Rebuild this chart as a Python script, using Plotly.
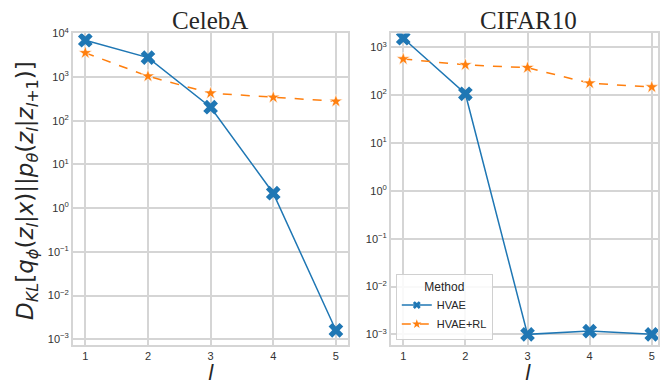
import plotly.graph_objects as go

levels = [1, 2, 3, 4, 5]
celeba_hvae = [7000, 2800, 205, 2.2, 0.0016]
celeba_hvae_rl = [3600, 1050, 430, 345, 280]
cifar_hvae = [1550, 107, 0.001, 0.00117, 0.001]
cifar_hvae_rl = [570, 430, 375, 178, 148]
titles = ["CelebA", "CIFAR10"]
series_names = ["HVAE", "HVAE+RL"]
ytick_vals = [1e-3, 1e-2, 1e-1, 1e0, 1e1, 1e2, 1e3, 1e4]
ytick_text = ["10<sup>−3</sup>", "10<sup>−2</sup>", "10<sup>−1</sup>", "10<sup>0</sup>",
              "10<sup>1</sup>", "10<sup>2</sup>", "10<sup>3</sup>", "10<sup>4</sup>"]

BLUE = "#1f77b4"
ORANGE = "#ff7f0e"
GRID = "#d5d5d5"
TXT = "#262626"

W, H = 660, 387

fig = go.Figure()

def add_panel(hv, rl, xa, ya):
    fig.add_trace(go.Scatter(
        x=levels, y=hv, mode="lines+markers", name=series_names[0],
        xaxis=xa, yaxis=ya, showlegend=False,
        line=dict(color=BLUE, width=1.5),
        marker=dict(symbol="x", size=13, color=BLUE, line=dict(width=0))))
    fig.add_trace(go.Scatter(
        x=levels, y=rl, mode="lines+markers", name=series_names[1],
        xaxis=xa, yaxis=ya, showlegend=False,
        line=dict(color=ORANGE, width=1.5, dash="dash"),
        marker=dict(symbol="star", size=10, color=ORANGE, line=dict(width=0.6, color="white"))))

add_panel(celeba_hvae, celeba_hvae_rl, "x", "y")
add_panel(cifar_hvae, cifar_hvae_rl, "x2", "y2")

# legend entries (smaller markers, as in the reference legend)
fig.add_trace(go.Scatter(x=[None], y=[None], mode="lines+markers", name=series_names[0],
                         xaxis="x2", yaxis="y2",
                         line=dict(color=BLUE, width=1.5),
                         marker=dict(symbol="x", size=7, color=BLUE, line=dict(width=0))))
fig.add_trace(go.Scatter(x=[None], y=[None], mode="lines+markers", name=series_names[1],
                         xaxis="x2", yaxis="y2",
                         line=dict(color=ORANGE, width=1.5, dash="dash"),
                         marker=dict(symbol="star", size=7, color=ORANGE, line=dict(width=0))))

px = lambda p: p / W
py = lambda p: (H - p) / H

axis_common = dict(showgrid=True, gridcolor=GRID, gridwidth=1.5, showline=True,
                   linecolor=GRID, linewidth=1.5, mirror=True, zeroline=False, ticks="",
                   tickfont=dict(family="Liberation Sans, Arial", size=11, color="#333333"))

fig.update_layout(
    width=W, height=H, margin=dict(l=0, r=0, t=0, b=0),
    paper_bgcolor="white", plot_bgcolor="white",
    xaxis=dict(domain=[px(73), px(349.5)], range=[0.8, 5.2], tickvals=levels, anchor="y",
               ticklabelstandoff=0, **axis_common),
    yaxis=dict(domain=[py(344), py(26)], type="log", range=[-3.13, 4.0],
               tickvals=ytick_vals, ticktext=ytick_text, anchor="x", **axis_common),
    xaxis2=dict(domain=[px(392), 1.0], range=[0.8, 5.1], tickvals=levels, anchor="y2",
                ticklabelstandoff=0, **axis_common),
    yaxis2=dict(domain=[py(344), py(26)], type="log", range=[-3.22, 3.29],
                tickvals=ytick_vals[:-1], ticktext=ytick_text[:-1], anchor="x2", **axis_common),
    showlegend=True,
    legend=dict(x=px(397), y=py(339), xanchor="left", yanchor="bottom",
                bgcolor="rgba(255,255,255,0.85)", bordercolor="#d0d0d0", borderwidth=1,
                font=dict(family="Liberation Sans, Arial", size=11, color=TXT),
                title=dict(text="Method", side="top center",
                           font=dict(family="Liberation Sans, Arial", size=12, color=TXT)),
                itemwidth=30, tracegroupgap=0),
)

annots = [
    dict(text=titles[0], x=px(211), y=py(13), yanchor="middle", font=dict(family="Liberation Serif, Times New Roman", size=25, color=TXT)),
    dict(text=titles[1], x=px(530), y=py(13), yanchor="middle", font=dict(family="Liberation Serif, Times New Roman", size=25, color=TXT)),
    dict(text="<i>l</i>", x=px(212), y=py(387), yanchor="bottom", font=dict(family="DejaVu Sans", size=21, color=TXT)),
    dict(text="<i>l</i>", x=px(530), y=py(387), yanchor="bottom", font=dict(family="DejaVu Sans", size=21, color=TXT)),
    dict(text="<i>D</i><sub><i>KL</i></sub>[<i>q</i><sub><i>ϕ</i></sub>(<i>z</i><sub><i>l</i></sub>|<i>x</i>)||<i>p</i><sub><i>θ</i></sub>(<i>z</i><sub><i>l</i></sub>|<i>z</i><sub><i>l</i>+1</sub>)]",
         x=px(27), y=py(186), yanchor="middle", textangle=-90, font=dict(family="DejaVu Sans", size=23, color=TXT)),
]
for a in annots:
    fig.add_annotation(xref="paper", yref="paper", showarrow=False, xanchor="center", **a)

fig.write_html("out.html")
